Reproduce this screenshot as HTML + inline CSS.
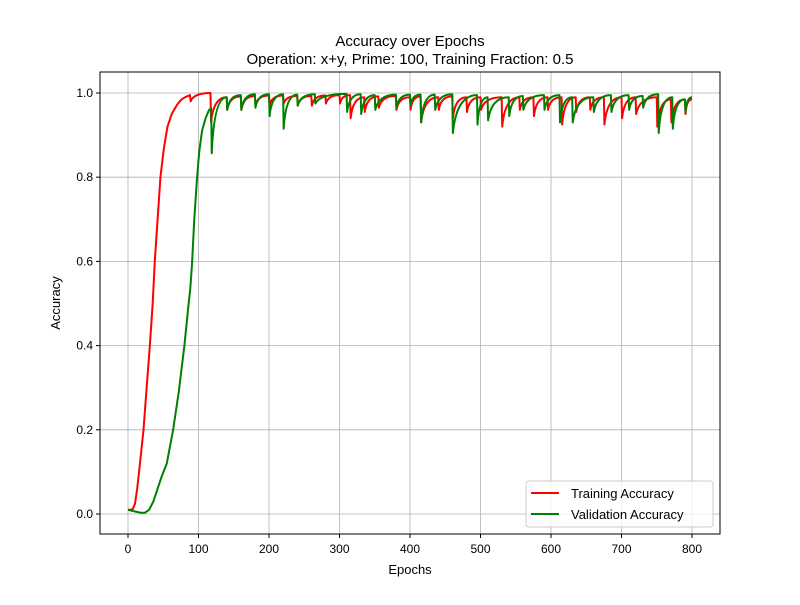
<!DOCTYPE html>
<html><head><meta charset="utf-8"><style>
body{margin:0;background:#fff}
svg{font-family:"Liberation Sans","DejaVu Sans",sans-serif}
</style></head><body>
<svg id="chart" width="800" height="600" viewBox="0 0 800 600">
<rect x="0" y="0" width="800" height="600" fill="#fff"/>
<g id="grid"></g>
<g id="series"></g>
<rect x="100" y="72" width="620" height="462" fill="none" stroke="#000" stroke-width="1"/>
<g id="ticks"></g>
<text x="410" y="46" text-anchor="middle" font-size="15">Accuracy over Epochs</text>
<text x="410" y="64" text-anchor="middle" font-size="15">Operation: x+y, Prime: 100, Training Fraction: 0.5</text>
<text x="410" y="574" text-anchor="middle" font-size="13">Epochs</text>
<text transform="translate(60,303) rotate(-90)" text-anchor="middle" font-size="13">Accuracy</text>
<g>
<rect x="526" y="481" width="187" height="46" rx="3" fill="#fff" fill-opacity="0.8" stroke="#ccc"/>
<line x1="531" y1="493" x2="559" y2="493" stroke="red" stroke-width="2"/>
<text x="571" y="498" font-size="13">Training Accuracy</text>
<line x1="531" y1="514" x2="559" y2="514" stroke="green" stroke-width="2"/>
<text x="571" y="519" font-size="13">Validation Accuracy</text>
</g>
</svg>
<script>
const xTicks=[0,100,200,300,400,500,600,700,800];
const yTicks=[0.0,0.2,0.4,0.6,0.8,1.0];
// initial learning phase (epoch, accuracy)
const trainRiseEpochs=[0,4,7,10,13,17,22,26,31,35,38,42,46,51,56,62,70,76,81,88];
const trainRiseAcc=[0.01,0.01,0.012,0.025,0.06,0.12,0.2,0.29,0.4,0.5,0.6,0.7,0.8,0.87,0.92,0.95,0.973,0.985,0.99,0.995];
const valRiseEpochs=[0,10,18,24,30,36,42,48,55,64,72,80,86,88,89,91,94,98,101,105,110,115];
const valRiseAcc=[0.01,0.006,0.003,0.003,0.01,0.03,0.06,0.09,0.12,0.2,0.29,0.4,0.5,0.53,0.55,0.6,0.7,0.8,0.86,0.91,0.94,0.96];
// sawtooth phase: drop epochs, trough values, pre-drop peaks
const trainDropEpochs=[88,117,140,160,180,200,220,240,260,280,300,315,335,355,380,400,415,440,460,480,500,530,555,575,595,615,635,655,675,700,720,750,770,790];
const trainDropMins=[0.98,0.93,0.96,0.96,0.97,0.97,0.975,0.97,0.97,0.975,0.975,0.94,0.955,0.965,0.96,0.96,0.93,0.96,0.94,0.955,0.96,0.92,0.96,0.945,0.96,0.925,0.955,0.96,0.925,0.94,0.95,0.92,0.93,0.95];
const trainPeaks=[0.995,1.0,0.99,0.992,0.993,0.994,0.994,0.993,0.993,0.994,0.995,0.995,0.99,0.992,0.993,0.99,0.992,0.99,0.992,0.99,0.99,0.99,0.99,0.99,0.99,0.99,0.99,0.99,0.99,0.99,0.99,0.99,0.985,0.985];
const trainEnd=[800,0.985];
const valDropEpochs=[118,140,160,180,200,220,240,265,310,330,350,380,400,415,435,460,495,510,540,560,590,612,630,660,685,710,730,752,772,790];
const valDropMins=[0.857,0.96,0.96,0.965,0.945,0.915,0.97,0.975,0.955,0.95,0.96,0.965,0.97,0.93,0.96,0.905,0.925,0.935,0.945,0.96,0.96,0.93,0.93,0.955,0.955,0.96,0.965,0.905,0.915,0.955];
const valPeaks=[0.963,0.99,0.995,0.997,0.997,0.997,0.996,0.997,0.998,0.997,0.995,0.996,0.996,0.996,0.996,0.997,0.995,0.99,0.99,0.993,0.995,0.995,0.99,0.99,0.995,0.995,0.993,0.997,0.99,0.985];
const valEnd=[800,0.99];

const NS="http://www.w3.org/2000/svg";
const X=e=>128+e*(692-128)/800;
const Y=v=>514-v*(514-93);
const grid=document.getElementById('grid'),ticks=document.getElementById('ticks'),series=document.getElementById('series');
function mk(tag,attrs,parent){const el=document.createElementNS(NS,tag);for(const k in attrs)el.setAttribute(k,attrs[k]);parent.appendChild(el);return el;}
xTicks.forEach(t=>{
  const g=mk('line',{x1:X(t),x2:X(t),y1:72,y2:534,stroke:'#b0b0b0','stroke-width':0.8},grid);
  
  
  const tk=mk('line',{x1:X(t),x2:X(t),y1:534,y2:538,stroke:'#000'},ticks);
  
  
  const lb=mk('text',{x:X(t),y:553,'text-anchor':'middle','font-size':12},ticks);
  lb.textContent=String(t);
  
  
});
yTicks.forEach(t=>{
  const g=mk('line',{x1:100,x2:720,y1:Y(t),y2:Y(t),stroke:'#b0b0b0','stroke-width':0.8},grid);
  
  
  const tk=mk('line',{x1:96,x2:100,y1:Y(t),y2:Y(t),stroke:'#000'},ticks);
  
  
  const lb=mk('text',{x:93,y:Y(t)+4,'text-anchor':'end','font-size':12},ticks);
  lb.textContent=t.toFixed(1);
  
  
});
function buildPath(riseE,riseA,drops,mins,peaks,end){
  let d='M'+X(riseE[0])+','+Y(riseA[0]);
  for(let i=1;i<riseE.length;i++)d+=' L'+X(riseE[i])+','+Y(riseA[i]);
  for(let i=0;i<drops.length;i++){
    d+=' L'+X(drops[i])+','+Y(peaks[i]);
    d+=' L'+X(drops[i]+0.8)+','+Y(mins[i]);
    const nE=i+1<drops.length?drops[i+1]:end[0];
    const nV=i+1<drops.length?peaks[i+1]:end[1];
    const cE=drops[i]+0.8+(nE-drops[i])*0.15;
    d+=' Q'+X(cE)+','+Y(nV)+' '+X(nE)+','+Y(nV);
  }
  return d;
}
const tr=mk('path',{d:buildPath(trainRiseEpochs,trainRiseAcc,trainDropEpochs,trainDropMins,trainPeaks,trainEnd),fill:'none',stroke:'red','stroke-width':2,'stroke-linejoin':'round'},series);


const va=mk('path',{d:buildPath(valRiseEpochs,valRiseAcc,valDropEpochs,valDropMins,valPeaks,valEnd),fill:'none',stroke:'green','stroke-width':2,'stroke-linejoin':'round'},series);


</script>
</body></html>
